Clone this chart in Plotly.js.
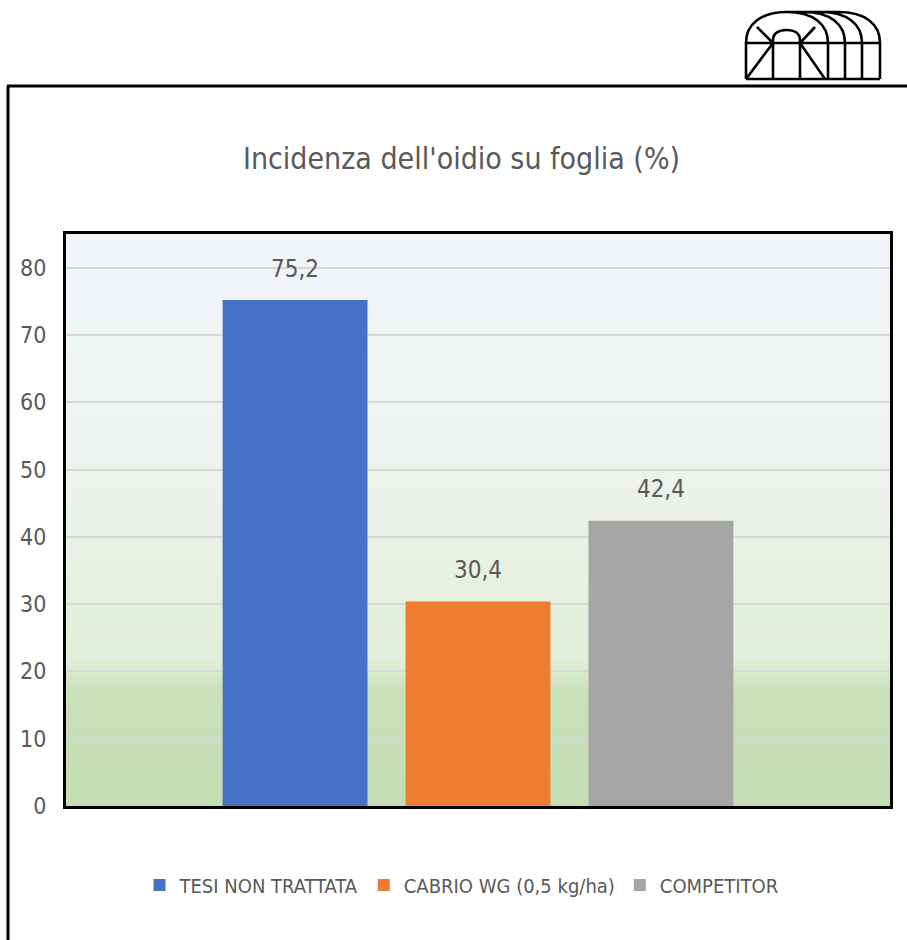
<!DOCTYPE html>
<html>
<head>
<meta charset="utf-8">
<script src="https://cdn.plot.ly/plotly-3.0.1.min.js"></script>
<style>html,body{margin:0;padding:0;background:#fff;}#chart{width:907px;height:940px;}</style>
</head>
<body>
<div id="chart"></div>
<script>
// ---- data ----
const categories = ["Incidenza dell'oidio su foglia"];
const seriesNames = ["TESI NON TRATTATA", "CABRIO WG (0,5 kg/ha)", "COMPETITOR"];
const tesiValues = [75.2];
const cabrioValues = [30.4];
const competitorValues = [42.4];
const yTickValues = [0, 10, 20, 30, 40, 50, 60, 70, 80];
const chartTitle = "Incidenza dell'oidio su foglia (%)";

// ---- styling / layout ----
const W = 907, H = 940;
const M = {l: 66, r: 17, t: 234, b: 134};
const PW = W - M.l - M.r, PH = H - M.t - M.b;
const px = x => (x - M.l) / PW;
const py = y => (H - M.b - y) / PH;
const FONT = "'Liberation Sans Narrow', 'DejaVu Sans Condensed', 'Roboto Condensed', Roboto, sans-serif";
const TXT = '#595959';
const colors = ['#4472c4', '#ed7d31', '#a5a5a5'];

const allValues = [tesiValues, cabrioValues, competitorValues];
const barTraces = allValues.map((vals, i) => ({
  type: 'bar',
  name: seriesNames[i],
  x: categories,
  y: vals,
  offsetgroup: 'g' + i,
  marker: {color: colors[i], line: {width: 0}},
  hoverinfo: 'skip'
}));
// data labels, aligned with the grouped bars
const labelTraces = allValues.map((vals, i) => ({
  type: 'scatter',
  mode: 'text+markers',
  x: categories,
  y: vals,
  offsetgroup: 'g' + i,
  marker: {size: 26, opacity: 0, color: colors[i]},
  texttemplate: '%{y:.1f}',
  textposition: 'top center',
  textfont: {family: FONT, size: 24, color: TXT},
  cliponaxis: false,
  showlegend: false,
  hoverinfo: 'skip'
}));

// gradient background (plot area)
const stops = [
  [0.00, [241, 245, 250]],
  [0.40, [238, 242, 238]],
  [0.64, [230, 239, 224]],
  [0.745, [226, 238, 216]],
  [0.80, [201, 224, 185]],
  [1.00, [196, 222, 179]]
];
function gradColor(t) {
  for (let k = 0; k < stops.length - 1; k++) {
    const [a, ca] = stops[k], [b, cb] = stops[k + 1];
    if (t >= a && t <= b) {
      const f = (t - a) / (b - a);
      const c = ca.map((v, j) => Math.round(v + (cb[j] - v) * f));
      return 'rgb(' + c.join(',') + ')';
    }
  }
  return 'rgb(' + stops[stops.length - 1][1].join(',') + ')';
}
const shapes = [];
const N = 143;
for (let i = 0; i < N; i++) {
  shapes.push({type: 'rect', xref: 'paper', yref: 'paper', layer: 'below',
    x0: 0, x1: 1, y0: 0, y1: 1 - i / N,
    fillcolor: gradColor((i + 0.5) / N), line: {width: 0}});
}
// outer frame
shapes.push({type: 'line', xref: 'paper', yref: 'paper', x0: px(8), x1: px(8), y0: py(86), y1: py(942), line: {color: '#000', width: 3}});
shapes.push({type: 'line', xref: 'paper', yref: 'paper', x0: px(7), x1: px(910), y0: py(86), y1: py(86), line: {color: '#000', width: 3}});

// greenhouse logo (pixel coordinates converted to paper)
const P = (x, y) => px(x).toFixed(5) + ',' + py(y).toFixed(5);
const k = 0.62, rx = 41, ry = 31, base = 43, topY = 12, x0 = 746;
function archLeft(s) {
  const a = x0 + s;
  return 'M' + P(a, base) + ' C' + P(a, base - ry * k) + ' ' + P(a + rx - rx * k, topY) + ' ' + P(a + rx, topY);
}
function archRight(s) {
  const a = x0 + s;
  return 'M' + P(a + rx, topY) + ' C' + P(a + rx + rx * k, topY) + ' ' + P(a + 2 * rx, base - ry * k) + ' ' + P(a + 2 * rx, base);
}
let logo = archLeft(0) + ' ' + archRight(0);
[17, 34, 52].forEach(s => { logo += ' ' + archRight(s); });
logo += ' M' + P(787, topY) + ' L' + P(839, topY);
logo += ' M' + P(746, base) + ' L' + P(880, base);
logo += ' M' + P(746, 79) + ' L' + P(880, 79);
logo += ' M' + P(746, base) + ' L' + P(746, 79);
[828, 845, 862, 880].forEach(x => { logo += ' M' + P(x, base) + ' L' + P(x, 79); });
// door
logo += ' M' + P(773, 79) + ' L' + P(773, 40) + ' C' + P(773, 33) + ' ' + P(779, 30) + ' ' + P(786.5, 30) +
        ' C' + P(794, 30) + ' ' + P(800, 33) + ' ' + P(800, 40) + ' L' + P(800, 79);
// diagonals
logo += ' M' + P(746, 79) + ' L' + P(773, base);
logo += ' M' + P(773, base) + ' L' + P(757, 27);
logo += ' M' + P(800, base) + ' L' + P(825, 79);
logo += ' M' + P(800, base) + ' L' + P(815, 27);
shapes.push({type: 'path', xref: 'paper', yref: 'paper', path: logo, line: {color: '#000', width: 2.6}});

const layout = {
  width: W, height: H,
  margin: M,
  paper_bgcolor: '#ffffff',
  plot_bgcolor: 'rgba(0,0,0,0)',
  separators: ',.',
  font: {family: FONT, color: TXT},
  title: {text: chartTitle, x: 461.5 / W, xanchor: 'center', xref: 'container',
          y: 1 - 158 / H, yanchor: 'middle', yref: 'container',
          font: {family: FONT, size: 30, color: TXT}},
  barmode: 'group',
  bargap: 0.334,
  bargroupgap: 0.208,
  scattermode: 'group',
  scattergap: 0.334,
  xaxis: {type: 'category', showticklabels: false, showgrid: false, zeroline: false,
          showline: true, mirror: true, linecolor: '#000', linewidth: 3, ticks: '', fixedrange: true},
  yaxis: {range: [0, 85], tickvals: yTickValues, showgrid: true, gridcolor: '#d4d8d8', gridwidth: 2,
          zeroline: false, showline: true, mirror: true, linecolor: '#000', linewidth: 3, ticks: '',
          ticklabelstandoff: 12, tickfont: {family: FONT, size: 23, color: TXT}, fixedrange: true},
  legend: {orientation: 'h', x: 0.48, xanchor: 'center', y: -0.138, yanchor: 'middle',
           font: {family: FONT, size: 20, color: TXT}, bgcolor: 'rgba(0,0,0,0)', itemclick: false},
  shapes: shapes,
  showlegend: true
};
Plotly.newPlot('chart', barTraces.concat(labelTraces), layout, {displayModeBar: false, staticPlot: true});
</script>
</body>
</html>
